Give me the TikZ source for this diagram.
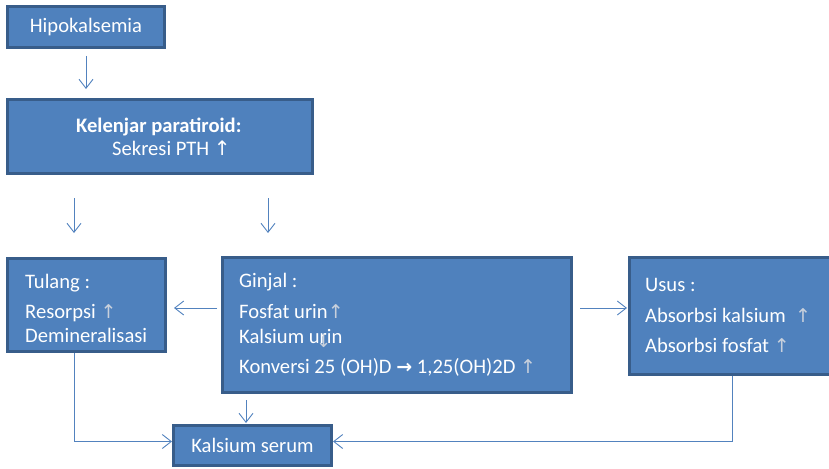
\documentclass[tikz,border=0pt]{standalone}
\usepackage{fontspec}
\setmainfont{Carlito}
\newfontfamily\arrfont{DejaVu Sans}
\usetikzlibrary{arrows.meta}

\definecolor{boxfill}{RGB}{79,129,189}
\definecolor{boxline}{RGB}{56,93,138}
\definecolor{connline}{RGB}{82,130,190}
\definecolor{arrgray}{RGB}{200,208,220}

\newcommand{\up}{{\arrfont\fontsize{19}{19}\selectfont\color{arrgray}↑}}
\newcommand{\upw}{{\arrfont\fontsize{20}{20}\selectfont\color{white}↑}}
\newcommand{\down}{{\arrfont\fontsize{18}{18}\selectfont\color{arrgray}↓}}

\tikzset{
  box/.style={draw=boxline, fill=boxfill, line width=3pt, inner sep=0pt,
    text=white, font=\fontsize{20.6}{24}\selectfont},
  txt/.style={anchor=base west, inner sep=0pt, text=white,
    font=\fontsize{20.6}{24}\selectfont},
  conn/.style={draw=connline, line width=0.9pt,
    -{Straight Barb[length=9pt,width=14pt,line width=0.9pt]}},
}

\begin{document}
\begin{tikzpicture}[x=1pt,y=-1pt]
\useasboundingbox (0,0) rectangle (829,468);

% boxes
\node[box, minimum width=157pt, minimum height=41pt] (hipo) at (86,27) {Hipokalsemia};
\node[box, minimum width=305pt, minimum height=74pt] (kel) at (160,136.5) {};
\node[box, minimum width=158pt, minimum height=93pt] (tul) at (86.5,305) {};
\node[box, minimum width=349pt, minimum height=135pt] (gin) at (397,325) {};
\node[box, minimum width=205pt, minimum height=117pt] (usu) at (732,316) {};
\node[box, minimum width=158pt, minimum height=40pt] (kal) at (252.5,445.5) {Kalsium serum};

% box contents
\node[txt] (kelA) at (76,132) {\bfseries Kelenjar paratiroid:};
\node[txt] (kelB) at (112,155) {Sekresi PTH \upw};

\node[txt] (tulA) at (25,288) {Tulang :};
\node[txt] (tulB) at (25,318) {Resorpsi \up};
\node[txt] (tulC) at (25,342) {Demineralisasi};

\node[txt] (ginA) at (239,287) {Ginjal :};
\node[txt] (ginB) at (239,318) {Fosfat urin\up};
\node[txt] (ginC) at (239,343) {Kalsium urin};
\node[txt] (ginD) at (316,347) {\down};
\node[txt] (ginE) at (239,373) {Konversi 25 (OH)D {\arrfont\bfseries\fontsize{19}{19}\selectfont →} 1,25(OH)2D \up};

\node[txt] (usuA) at (645,291) {Usus :};
\node[txt] (usuB) at (645,322) {Absorbsi kalsium \ \up};
\node[txt] (usuC) at (645,352) {Absorbsi fosfat \up};

% connectors
\draw[conn, shorten <=7pt, shorten >=9pt] (hipo.south) -- (hipo.south |- kel.north);
\draw[conn, shorten <=23pt, shorten >=24pt]
  ([xshift=-12.5pt]tul.north |- kel.south) -- ([xshift=-12.5pt]tul.north);
\draw[conn, shorten <=23pt, shorten >=23pt]
  ([xshift=-129pt]gin.north |- kel.south) -- ([xshift=-129pt]gin.north);
\draw[conn, shorten <=4pt, shorten >=7pt]
  ([yshift=17pt]gin.west) -- ([yshift=17pt]gin.west -| tul.east);
\draw[conn, shorten <=7pt, shorten >=1pt]
  ([yshift=17pt]gin.east) -- ([yshift=17pt]gin.east -| usu.west);
\draw[conn, shorten <=6pt, shorten >=1pt]
  ([xshift=-6.5pt]kal.north |- gin.south) -- ([xshift=-6.5pt]kal.north);
\draw[conn] ([xshift=-12.5pt]tul.south) |- ([yshift=4pt]kal.west);
\draw[conn] (usu.south) |- ([yshift=4pt]kal.east);
\end{tikzpicture}
\end{document}
